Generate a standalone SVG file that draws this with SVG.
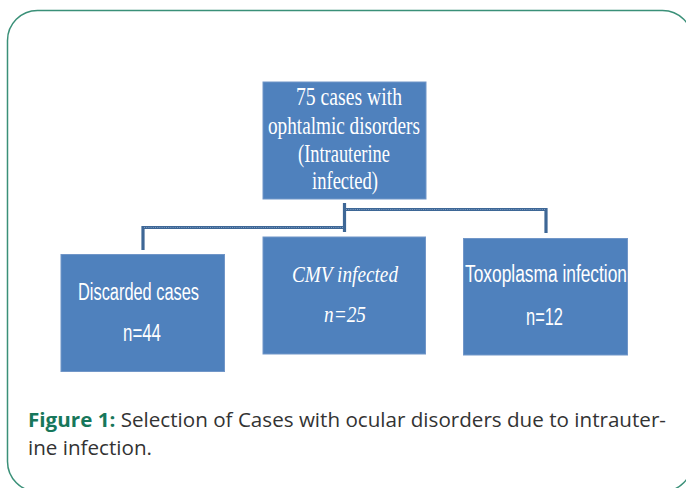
<svg xmlns="http://www.w3.org/2000/svg" width="686" height="488" viewBox="0 0 686 488">
  <style>
    .box { fill: #4f81bd; stroke: #7196c8; stroke-width: 1; }
    .serif { font-family: "Liberation Serif", "Times New Roman", serif; fill: #ffffff; }
    .sans { font-family: "Liberation Sans", Arial, sans-serif; fill: #ffffff; }
    .conn { fill: none; stroke: #3e6796; stroke-width: 3.2; }
    .connTex { fill: none; stroke: #7f9fc6; stroke-width: 1; stroke-dasharray: 1 1.2; }
    .cap { font-family: "Open Sans", "Noto Sans", sans-serif; font-size: 20px; fill: #333333; }
  </style>
  <rect x="7.5" y="10.5" width="685" height="481" rx="30" ry="30" fill="#ffffff" stroke="#3a9078" stroke-width="1.5"/>

  <g id="connectors">
    <path class="conn" d="M344.5 203 V232 M344.5 209.5 H546 V233 M344.5 227.5 H143 V250"/>
    <path class="connTex" d="M346 209.5 H545 M343 227.5 H144"/>
  </g>

  <g id="node-top">
    <rect class="box" x="263" y="82" width="163" height="117"/>
    <text class="serif" font-size="25" x="296" y="105" textLength="106" lengthAdjust="spacingAndGlyphs">75  cases with</text>
    <text class="serif" font-size="25" x="268" y="134" textLength="152" lengthAdjust="spacingAndGlyphs">ophtalmic  disorders</text>
    <text class="serif" font-size="25" x="298" y="162" textLength="92" lengthAdjust="spacingAndGlyphs">(Intrauterine</text>
    <text class="serif" font-size="25" x="312" y="189" textLength="66" lengthAdjust="spacingAndGlyphs">infected)</text>
  </g>

  <g id="node-discarded">
    <rect class="box" x="61" y="254.5" width="163.5" height="117"/>
    <text class="sans" font-size="23" x="78" y="300" textLength="121" lengthAdjust="spacingAndGlyphs">Discarded cases</text>
    <text class="sans" font-size="23" x="123" y="341" textLength="38" lengthAdjust="spacingAndGlyphs">n=44</text>
  </g>

  <g id="node-cmv">
    <rect class="box" x="263" y="237" width="162.5" height="117"/>
    <text class="serif" font-size="24" font-style="italic" x="292" y="282" textLength="106" lengthAdjust="spacingAndGlyphs">CMV infected</text>
    <text class="serif" font-size="24" font-style="italic" x="324" y="322" textLength="42" lengthAdjust="spacingAndGlyphs">n=25</text>
  </g>

  <g id="node-toxo">
    <rect class="box" x="463.5" y="238.5" width="164" height="116.5"/>
    <text class="sans" font-size="23" x="465" y="282" textLength="162" lengthAdjust="spacingAndGlyphs">Toxoplasma infection</text>
    <text class="sans" font-size="23" x="526" y="325" textLength="37" lengthAdjust="spacingAndGlyphs">n=12</text>
  </g>

  <g id="caption">
    <text class="cap" x="28" y="427" textLength="638" lengthAdjust="spacingAndGlyphs"><tspan font-weight="bold" fill="#17775b">Figure 1:</tspan> Selection of Cases with ocular disorders due to intrauter-</text>
    <text class="cap" x="28" y="455" textLength="124" lengthAdjust="spacingAndGlyphs">ine infection.</text>
  </g>
</svg>
